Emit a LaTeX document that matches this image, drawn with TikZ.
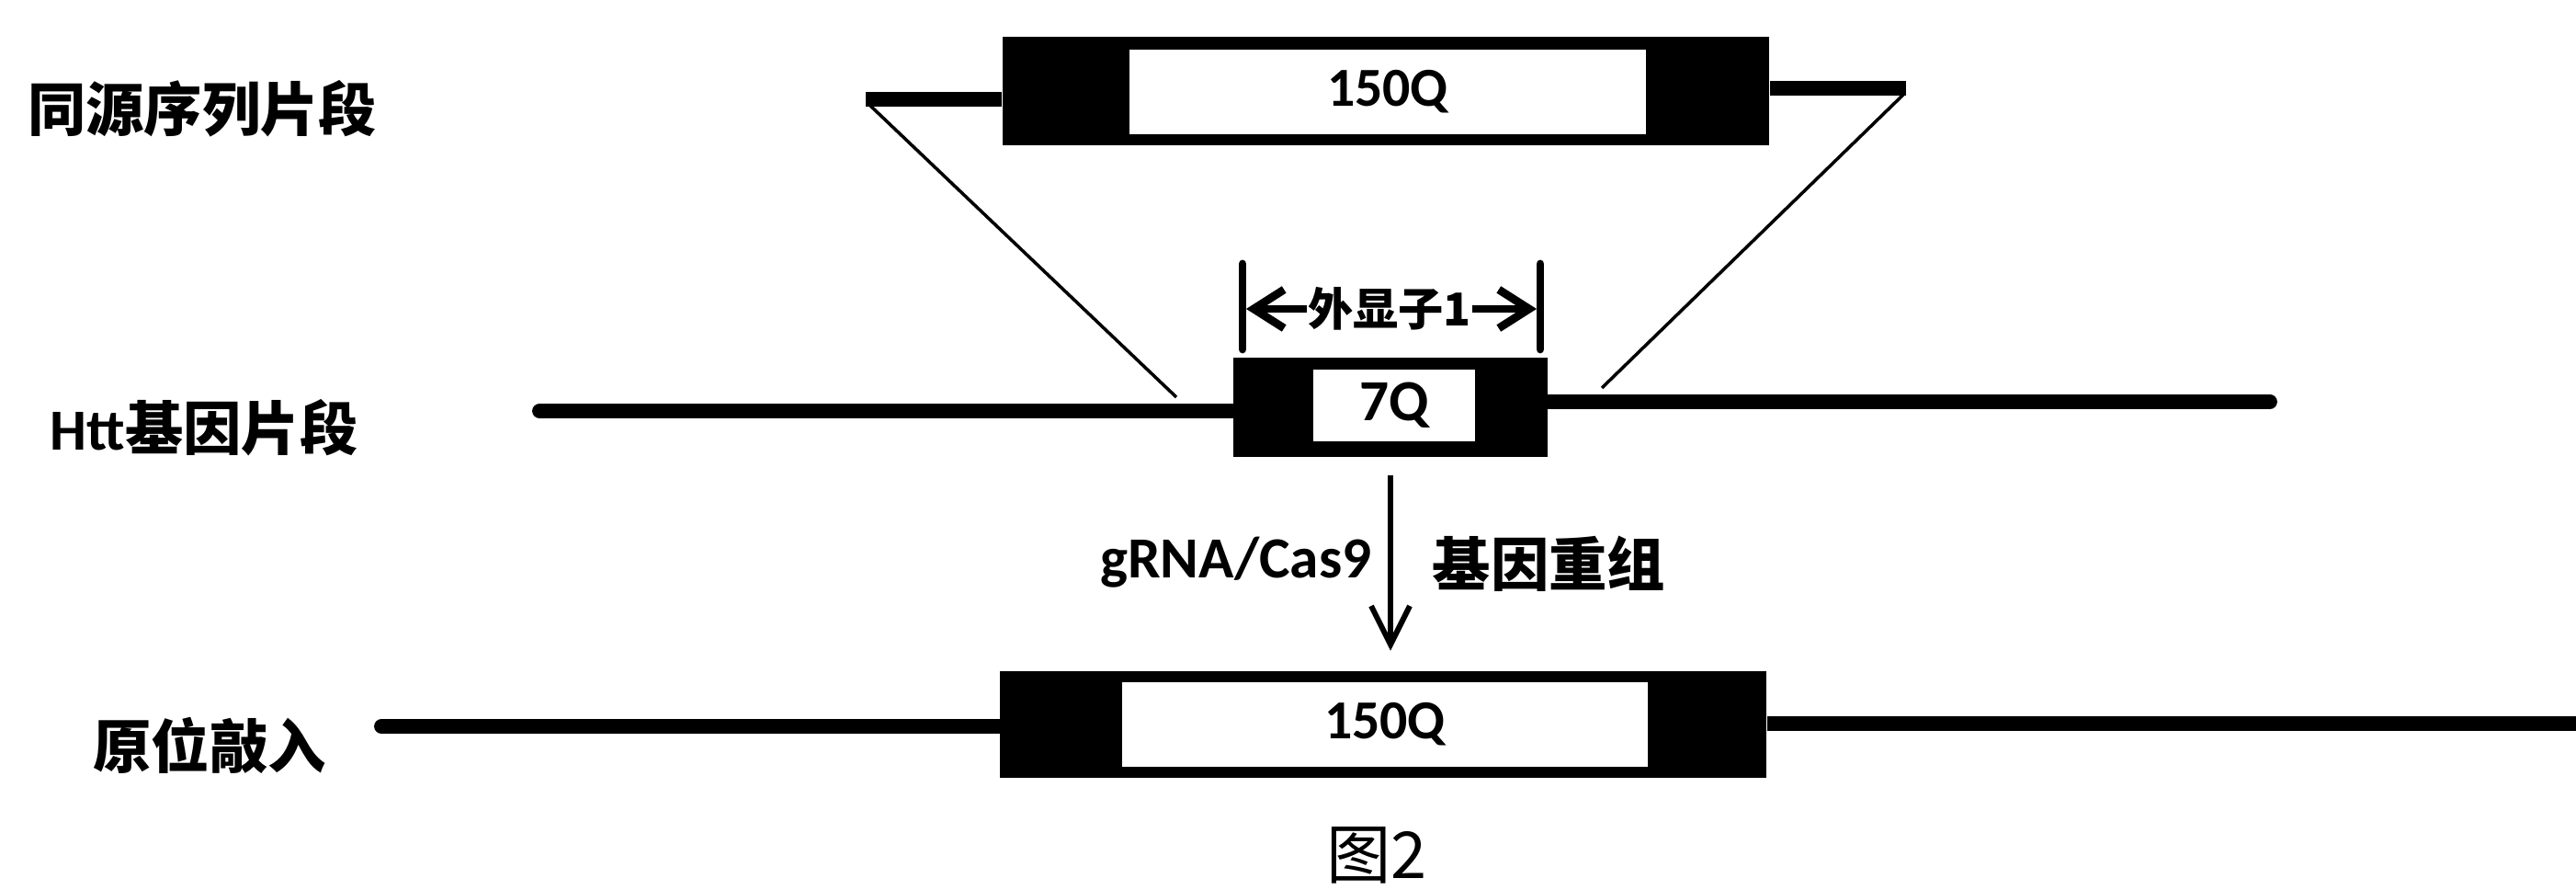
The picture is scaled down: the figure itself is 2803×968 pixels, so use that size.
\documentclass[tikz,border=0pt]{standalone}
\usepackage{fontspec}
\usetikzlibrary{arrows.meta}
\newfontfamily\cjk{Noto Sans CJK SC}
\newfontfamily\lat{Carlito}
\tikzset{
  dna/.style={line width=4.5pt},
  outerbox/.style={draw=none, fill=black, inner sep=0pt, rectangle},
  innerbox/.style={draw=none, fill=white, inner sep=0pt, rectangle},
  lbl/.style={font=\cjk\bfseries\fontsize{18}{20}\selectfont, inner sep=0pt},
  num/.style={font=\lat\bfseries\fontsize{17}{20}\selectfont},
  bignum/.style={font=\lat\bfseries\fontsize{18}{20}\selectfont},
  thinline/.style={line width=1pt},
  tick/.style={line width=2.5pt, line cap=round},
  barb/.style={line width=2.5pt, -{Straight Barb[length=0.33cm, width=0.42cm]}},
  downarrow/.style={line width=1.7pt, -{Straight Barb[length=0.42cm, width=0.42cm]}}
}
\begin{document}
\begin{tikzpicture}[x=0.01cm, y=-0.01cm]
\useasboundingbox (0,0) rectangle (2803,968);

% ---------- labels on the left ----------
\node[lbl] (l1) at (220,118) {同源序列片段};
\node[lbl] (l2) at (222,465) {{\lat\bfseries Htt}基因片段};
\node[lbl] (l3) at (228,811) {原位敲入};

% ---------- free line ends ----------
\coordinate (tL) at (942,108);
\coordinate (tR) at (2074,96);
\coordinate (mL) at (587,447);
\coordinate (mR) at (2470,437);
\coordinate (bL) at (415,790);
\coordinate (bR) at (2803,787);
\coordinate (dL1) at (946,114);
\coordinate (dL2) at (1280,432);
\coordinate (dR1) at (2072,102);
\coordinate (dR2) at (1743,422);

% ---------- boxes ----------
\node[outerbox, minimum width=8.34cm, minimum height=1.18cm] (top) at (1508,99) {};
\node[innerbox, minimum width=5.62cm, minimum height=0.92cm, num] (topin) at (1510,100) {150Q};

\node[outerbox, minimum width=3.42cm, minimum height=1.07cm] (mid) at (1513,443) {};
\node[innerbox, minimum width=1.76cm, minimum height=0.78cm, bignum] (midin) at (1517,441) {7Q};

\node[outerbox, minimum width=8.34cm, minimum height=1.15cm] (bot) at (1505,788) {};
\node[innerbox, minimum width=5.71cm, minimum height=0.92cm, num] (botin) at (1507,788) {150Q};

% ---------- DNA lines ----------
\draw[dna] (tL) -- (tL -| top.west);
\draw[dna] (top.east |- tR) -- (tR);
\draw[dna, line cap=round] (mL) -- (mL -| mid.west);
\draw[dna, line cap=round] (mid.east |- mR) -- (mR);
\draw[dna, line cap=round] (bL) -- (bL -| bot.west);
\draw[dna] (bot.east |- bR) -- (bR);

% ---------- homology diagonals ----------
\draw[thinline] (dL1) -- (dL2);
\draw[thinline] (dR1) -- (dR2);

% ---------- exon 1 bracket ----------
\coordinate (kLt) at (1352,287);
\coordinate (kLb) at (1352,380);
\coordinate (kRt) at (1676,287);
\coordinate (kRb) at (1676,380);
\draw[tick] (kLt) -- (kLb);
\draw[tick] (kRt) -- (kRb);
\node[font=\cjk\bfseries\fontsize{14}{16}\selectfont, inner sep=0pt] (exon) at (1512,336) {外显子1};
\coordinate (kL) at (1356,336);
\coordinate (kR) at (1672,336);
\draw[barb] (exon.west) -- (kL);
\draw[barb] (exon.east) -- (kR);

% ---------- recombination arrow ----------
\draw[downarrow, shorten <=0.2cm, shorten >=0.22cm] (mid.south) -- (mid.south |- bot.north);
\node[font=\lat\bfseries\fontsize{18}{20}\selectfont, anchor=east, inner sep=0pt] (grna) at (1493,612) {gRNA/Cas9};
\node[lbl, anchor=west] (recomb) at (1558,613) {基因重组};

% ---------- caption ----------
\node[font=\cjk\fontsize{20}{22}\selectfont, inner sep=0pt] (cap) at (1498,930) {图2};
\end{tikzpicture}
\end{document}
